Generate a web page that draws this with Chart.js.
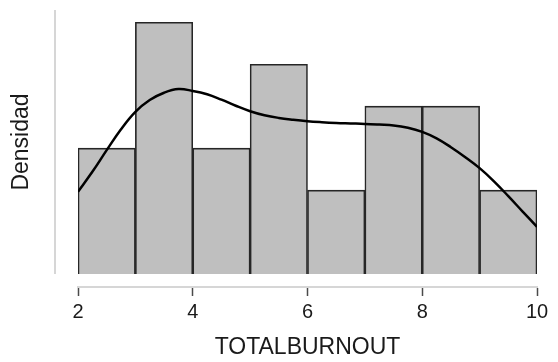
<!DOCTYPE html>
<html>
<head>
<meta charset="utf-8">
<script src="https://cdn.jsdelivr.net/npm/chart.js@4"></script>
<style>
  html, body { margin: 0; padding: 0; background: #fff; }
  #wrap { width: 558px; height: 362px; }
</style>
</head>
<body>
<div id="wrap"><canvas id="burnoutChart" width="558" height="362"></canvas></div>
<script>
// histogram bins (edges) and counts per bin
const binEdges = [2, 3, 4, 5, 6, 7, 8, 9, 10];
const binCounts = [3, 6, 3, 5, 2, 4, 4, 2];

// kernel density estimate
const densityX = [2, 2.25, 2.5, 2.75, 3, 3.25, 3.5, 3.75, 4, 4.25, 4.5, 4.75, 5, 5.25, 5.5, 5.75,
                  6, 6.25, 6.5, 6.75, 7, 7.25, 7.5, 7.75, 8, 8.25, 8.5, 8.75, 9, 9.25, 9.5, 9.75, 10];
const densityY = [0.0676, 0.0840, 0.1018, 0.1190, 0.1333, 0.1430, 0.1490, 0.1520, 0.1505, 0.1478,
                  0.1433, 0.1383, 0.1338, 0.1305, 0.1283, 0.1268, 0.1256, 0.1248, 0.1242, 0.1238,
                  0.1234, 0.1228, 0.1221, 0.1202, 0.1168, 0.1115, 0.1042, 0.0960, 0.0870, 0.0762,
                  0.0640, 0.0513, 0.0388];

const xTicks = [2, 4, 6, 8, 10];
const yMax = 0.217;
const yTitle = 'Densidad';

const total = binCounts.reduce((a, b) => a + b, 0);
const barData = binCounts.map((c, i) => ({
    x: (binEdges[i] + binEdges[i + 1]) / 2,
    y: c / (total * (binEdges[i + 1] - binEdges[i]))
}));
const curveData = densityX.map((x, i) => ({ x: x, y: densityY[i] }));

const textColor = '#1a1a1a';
const fontFamily = '"Liberation Sans", Arial, Helvetica, sans-serif';

// y axis line sits left of the plot, spanning 0..yMax, with its title centred on it
const sideAxis = {
    id: 'sideAxis',
    afterDraw(chart) {
        const { ctx, chartArea, scales } = chart;
        const x = chartArea.left - 23;
        const top = scales.y.getPixelForValue(yMax);
        const bottom = scales.y.getPixelForValue(0);
        ctx.save();
        ctx.strokeStyle = '#d6d6d6';
        ctx.lineWidth = 2;
        ctx.beginPath();
        ctx.moveTo(x, top);
        ctx.lineTo(x, bottom);
        ctx.stroke();

        ctx.translate(22, (top + bottom) / 2);
        ctx.rotate(-Math.PI / 2);
        ctx.fillStyle = textColor;
        ctx.font = '23px ' + fontFamily;
        ctx.textAlign = 'center';
        ctx.textBaseline = 'middle';
        ctx.fillText(yTitle, 0, 0);
        ctx.restore();
    }
};

new Chart(document.getElementById('burnoutChart').getContext('2d'), {
    type: 'bar',
    data: {
        datasets: [
            {
                type: 'line',
                data: curveData,
                borderColor: '#000',
                borderWidth: 2.5,
                pointRadius: 0,
                tension: 0.4,
                fill: false,
                order: 0
            },
            {
                type: 'bar',
                data: barData,
                backgroundColor: '#bfbfbf',
                borderColor: '#262626',
                borderWidth: 1.6,
                barPercentage: 1,
                categoryPercentage: 1,
                order: 1
            }
        ]
    },
    options: {
        responsive: false,
        animation: false,
        events: [],
        layout: { padding: { top: 10, right: 21, bottom: 0, left: 0 } },
        plugins: { legend: { display: false }, tooltip: { enabled: false } },
        scales: {
            x: {
                type: 'linear',
                min: 2,
                max: 10,
                offset: false,
                afterBuildTicks: (scale) => { scale.ticks = xTicks.map((v) => ({ value: v })); },
                afterFit: (scale) => { scale.height = 75; },
                border: { color: '#d6d6d6', width: 2 },
                grid: { offset: false, drawOnChartArea: false, tickLength: 9, tickColor: '#4a4a4a', tickWidth: 1.5 },
                ticks: { color: textColor, padding: 4, font: { family: fontFamily, size: 20 } },
                title: {
                    display: true,
                    text: 'TOTALBURNOUT',
                    color: textColor,
                    font: { family: fontFamily, size: 23 },
                    padding: { top: 0, bottom: 1 }
                }
            },
            y: {
                min: -13 / 1218,
                max: yMax,
                afterFit: (scale) => { scale.width = 78; },
                border: { display: false },
                grid: { display: false },
                ticks: { display: false }
            }
        }
    },
    plugins: [sideAxis]
});
</script>
</body>
</html>
